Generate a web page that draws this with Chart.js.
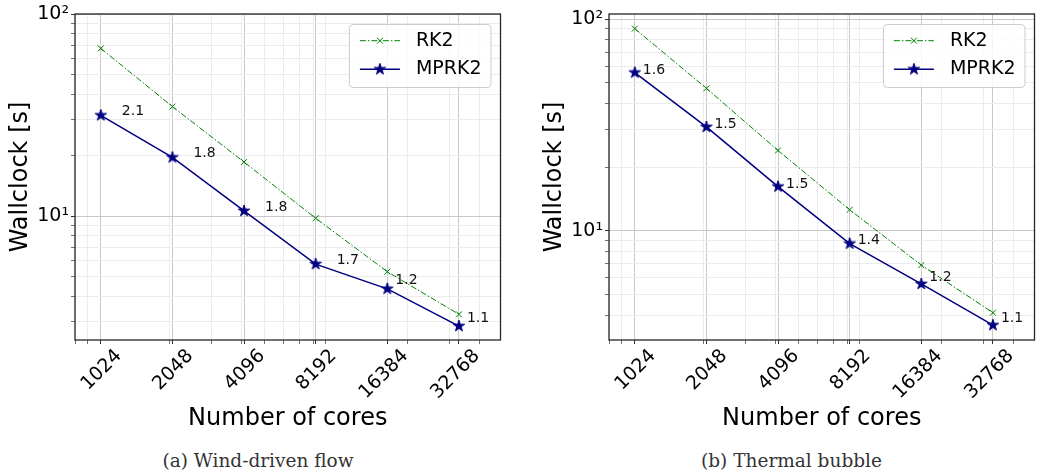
<!DOCTYPE html>
<html>
<head>
<meta charset="utf-8">
<script src="https://cdn.jsdelivr.net/npm/chart.js@4/dist/chart.umd.min.js"></script>
<style>
  body { margin: 0; background: #fff; overflow: hidden; }
  #page { position: relative; width: 1042px; height: 474px; overflow: hidden; }
  canvas { position: absolute; top: 0; }
  #windChart { left: 0; }
  #bubbleChart { left: 534px; }
  .caption { position: absolute; top: 450px; font-family: 'DejaVu Serif', serif; font-size: 18.5px; text-align: center; color: #333; white-space: nowrap; }
</style>
</head>
<body>
<div id="page">
  <canvas id="windChart" width="508" height="440"></canvas>
  <canvas id="bubbleChart" width="508" height="440"></canvas>
  <div class="caption" style="left:0;width:516px">(a) Wind-driven flow</div>
  <div class="caption" style="left:534px;width:515px">(b) Thermal bubble</div>
</div>
<script>
const cores = [1024, 2048, 4096, 8192, 16384, 32768];
const coreLabels = ['1024', '2048', '4096', '8192', '16384', '32768'];

// (a) wind-driven flow, wallclock in seconds
const windRK2 = [67.6, 34.8, 18.5, 9.75, 5.30, 3.26];
const windMPRK2 = [31.5, 19.5, 10.6, 5.78, 4.36, 2.85];
const windSpeedup = ['2.1', '1.8', '1.8', '1.7', '1.2', '1.1'];

// (b) thermal bubble
const bubbleRK2 = [90.3, 47.2, 24.0, 12.6, 6.90, 4.11];
const bubbleMPRK2 = [56.0, 31.0, 16.2, 8.71, 5.62, 3.59];
const bubbleSpeedup = ['1.6', '1.5', '1.5', '1.4', '1.2', '1.1'];

const yMajor = [10, 100];
const yMajorLabels = ['10¹', '10²'];
const minorSubs = [2, 3, 4, 5, 6, 7, 8, 9];

const FONT = '"DejaVu Sans", sans-serif';

// major ticks plus log minor ticks (2..9 x 10^k) inside [min, max]
const buildTicks = (min, max, majors) => {
  const out = majors.filter(v => v >= min && v <= max).map(v => ({value: v, major: true}));
  for (let k = Math.floor(Math.log10(min)); k <= Math.ceil(Math.log10(max)); k++) {
    minorSubs.forEach(s => {
      const v = s * Math.pow(10, k);
      if (v >= min && v <= max && !majors.includes(v)) out.push({value: v, major: false});
    });
  }
  return out.sort((a, b) => a.value - b.value);
};

const makeStar = (r, color) => {
  const c = document.createElement('canvas');
  const s = Math.ceil(r * 2 + 4);
  c.width = s; c.height = s;
  const g = c.getContext('2d');
  g.beginPath();
  for (let i = 0; i < 10; i++) {
    const rad = i % 2 ? r * 0.382 : r;
    const a = -Math.PI / 2 + i * Math.PI / 5;
    g.lineTo(s / 2 + rad * Math.cos(a), s / 2 + rad * Math.sin(a));
  }
  g.closePath();
  g.fillStyle = color;
  g.fill();
  g.strokeStyle = color;
  g.lineWidth = 1;
  g.stroke();
  return c;
};
const starImg = makeStar(6, '#000080');

const drawMarker = (ctx, ds, x, y) => {
  if (ds.pointStyle instanceof HTMLCanvasElement) {
    ctx.drawImage(ds.pointStyle, x - ds.pointStyle.width / 2, y - ds.pointStyle.height / 2);
  } else {
    const o = ds.pointRadius * Math.SQRT1_2;
    ctx.setLineDash([]);
    ctx.lineWidth = ds.pointBorderWidth;
    ctx.beginPath();
    ctx.moveTo(x - o, y - o); ctx.lineTo(x + o, y + o);
    ctx.moveTo(x - o, y + o); ctx.lineTo(x + o, y - o);
    ctx.stroke();
  }
};

// box around the axes, speedup numbers, framed legend
const extras = {
  id: 'extras',
  afterDraw(chart, args, opts) {
    const {ctx, chartArea} = chart;
    const xs = chart.scales.x, ys = chart.scales.y;
    ctx.save();

    ctx.strokeStyle = '#262626';
    ctx.lineWidth = 1.3;
    ctx.strokeRect(chartArea.left, chartArea.top, chartArea.right - chartArea.left, chartArea.bottom - chartArea.top);

    ctx.font = '14px ' + FONT;
    ctx.fillStyle = '#111';
    ctx.textBaseline = 'alphabetic';
    ctx.textAlign = 'left';
    opts.labels.forEach((t, i) => {
      const px = xs.getPixelForValue(cores[i]) + opts.offsets[i][0];
      const py = ys.getPixelForValue(opts.values[i]) + opts.offsets[i][1];
      ctx.fillText(t, px, py);
    });

    ctx.font = '19px ' + FONT;
    const sets = chart.data.datasets;
    const textW = Math.max(...sets.map(d => ctx.measureText(d.label).width));
    const w = 67 + textW + 9, h = 63;
    const lx = chartArea.right - 10 - w, ly = chartArea.top + 10;
    ctx.beginPath();
    ctx.roundRect(lx + 0.5, ly + 0.5, w, h, 4);
    ctx.fillStyle = 'rgba(255,255,255,0.8)';
    ctx.fill();
    ctx.strokeStyle = '#cccccc';
    ctx.lineWidth = 1;
    ctx.stroke();

    sets.forEach((ds, i) => {
      const ry = ly + 16.7 + i * 28.6;
      ctx.strokeStyle = ds.borderColor;
      ctx.lineWidth = ds.borderWidth;
      ctx.setLineDash(ds.borderDash || []);
      ctx.beginPath();
      ctx.moveTo(lx + 11, ry);
      ctx.lineTo(lx + 51, ry);
      ctx.stroke();
      drawMarker(ctx, ds, lx + 31, ry);
      ctx.fillStyle = '#000';
      ctx.textBaseline = 'middle';
      ctx.fillText(ds.label, lx + 67, ry);
    });
    ctx.restore();
  }
};

const xTicks = buildTicks(798, 49000, cores);

const makeChart = (id, rk2, mprk2, speedup, yMin, yMax, offsets) => {
  const yTicks = buildTicks(yMin, yMax, yMajor);
  const gridColor = c => (c.tick && c.tick.major) ? '#c8c8c8' : '#ececec';
  const tickWidth = c => (c.tick && c.tick.major) ? 1 : 0.7;
  return new Chart(document.getElementById(id), {
    type: 'line',
    data: {
      datasets: [
        {
          label: 'RK2',
          data: cores.map((c, i) => ({x: c, y: rk2[i]})),
          borderColor: 'green',
          backgroundColor: 'green',
          borderWidth: 1,
          borderDash: [6, 2, 1.5, 2],
          pointStyle: 'crossRot',
          pointRadius: 4.2,
          pointBorderWidth: 1,
          tension: 0
        },
        {
          label: 'MPRK2',
          data: cores.map((c, i) => ({x: c, y: mprk2[i]})),
          borderColor: '#000080',
          backgroundColor: '#000080',
          borderWidth: 1.5,
          pointStyle: starImg,
          pointRadius: 6,
          tension: 0
        }
      ]
    },
    options: {
      responsive: false,
      animation: false,
      events: [],
      layout: {padding: {top: 14, right: 4, left: 0, bottom: 0}},
      plugins: {
        legend: {display: false},
        tooltip: {enabled: false},
        extras: {labels: speedup, values: mprk2, offsets: offsets}
      },
      scales: {
        x: {
          type: 'logarithmic',
          min: 798,
          max: 49000,
          bounds: 'data',
          afterBuildTicks: s => { s.ticks = xTicks.map(t => ({...t})); },
          afterFit: s => { s.height = 100; },
          border: {display: false},
          grid: {color: gridColor, tickColor: '#333', tickLength: 4, tickWidth: tickWidth},
          ticks: {
            autoSkip: false,
            minRotation: 45,
            maxRotation: 45,
            labelOffset: 18,
            padding: 1,
            color: '#000',
            font: {family: FONT, size: 19},
            callback: v => { const i = cores.indexOf(v); return i >= 0 ? coreLabels[i] : ''; }
          },
          title: {display: true, text: 'Number of cores', color: '#000', font: {family: FONT, size: 24}, padding: {top: 0, bottom: 7}}
        },
        y: {
          type: 'logarithmic',
          min: yMin,
          max: yMax,
          bounds: 'data',
          afterBuildTicks: s => { s.ticks = yTicks; },
          afterFit: s => { s.width = 75; },
          border: {display: false},
          grid: {color: gridColor, tickColor: '#333', tickLength: 4, tickWidth: tickWidth},
          ticks: {
            autoSkip: false,
            padding: 2,
            color: '#000',
            font: {family: FONT, size: 19},
            callback: v => { const i = yMajor.indexOf(v); return i >= 0 ? yMajorLabels[i] : ''; }
          },
          title: {display: true, text: 'Wallclock [s]', color: '#000', font: {family: FONT, size: 24}, padding: {top: 6, bottom: 0}}
        }
      }
    },
    plugins: [extras]
  });
};

makeChart('windChart', windRK2, windMPRK2, windSpeedup, 2.433, 100,
  [[21, 0], [21, 0], [21, 0], [21, 0], [8, -5], [8, -4]]);
makeChart('bubbleChart', bubbleRK2, bubbleMPRK2, bubbleSpeedup, 3.055, 105.9,
  [[8, 1], [8, 1], [8, 1], [8, 0], [8, -3], [8, -3]]);
</script>
</body>
</html>
